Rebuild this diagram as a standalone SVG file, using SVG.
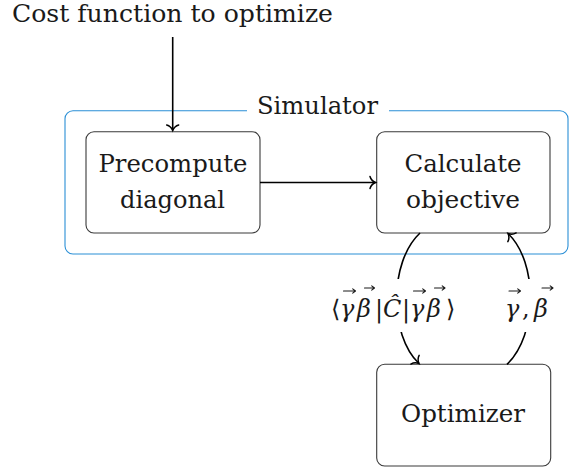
<svg xmlns="http://www.w3.org/2000/svg" width="569" height="467" viewBox="0 0 569 467">
<style>
text{font-family:"DejaVu Serif",serif;font-size:24.5px;fill:#1a1a1a;text-anchor:middle}
.box{fill:#fff;stroke:#3a3a3a;stroke-width:1.1}
.sim{fill:none;stroke:#2a8fd6;stroke-width:1.1}
.edge{fill:none;stroke:#000;stroke-width:1.6}
.math{font-size:24px;text-anchor:start}
.it{font-style:italic}
.vec{fill:none;stroke:#1a1a1a;stroke-width:1.1;stroke-linecap:round;stroke-linejoin:round}
</style>
<defs>
<marker id="arr" markerUnits="userSpaceOnUse" orient="auto" refX="0" refY="0" markerWidth="12" markerHeight="14" viewBox="-7 -7 12 14" overflow="visible">
<path d="M-5.5,-6 C-4.5,-2.5 -1.5,-0.6 0,0 C-1.5,0.6 -4.5,2.5 -5.5,6" fill="none" stroke="#000" stroke-width="1.5" stroke-linecap="round"/>
</marker>
</defs>

<g id="simulator">
<path class="sim" d="M389,110.7 H560 A8,8 0 0 1 568,118.7 V246 A8,8 0 0 1 560,254 H73 A8,8 0 0 1 65,246 V118.7 A8,8 0 0 1 73,110.7 H247"/>
<text x="317.5" y="114" textLength="121" lengthAdjust="spacingAndGlyphs">Simulator</text>
</g>

<g id="title">
<text x="172.5" y="22" textLength="321" lengthAdjust="spacingAndGlyphs">Cost function to optimize</text>
</g>

<g id="precompute">
<rect class="box" x="86" y="131.7" width="174" height="101.3" rx="8"/>
<text x="173" y="171.5" textLength="149" lengthAdjust="spacingAndGlyphs">Precompute</text>
<text x="172.5" y="208" textLength="105" lengthAdjust="spacingAndGlyphs">diagonal</text>
</g>

<g id="calculate">
<rect class="box" x="376.7" y="131.7" width="173.3" height="101.3" rx="8"/>
<text x="463" y="171.5" textLength="117" lengthAdjust="spacingAndGlyphs">Calculate</text>
<text x="463" y="208" textLength="114" lengthAdjust="spacingAndGlyphs">objective</text>
</g>

<g id="optimizer">
<rect class="box" x="376.7" y="364.3" width="174" height="101.7" rx="8"/>
<text x="463" y="421.5" textLength="124" lengthAdjust="spacingAndGlyphs">Optimizer</text>
</g>

<g id="connectors">
<path class="edge" d="M172.7,37 V130.5" marker-end="url(#arr)"/>
<path class="edge" d="M260,182.5 H375.5" marker-end="url(#arr)"/>
<path class="edge" d="M420,233 C389,262 389,335 419,363.5" marker-end="url(#arr)"/>
<path class="edge" d="M507,364.3 C538,335 538,262 508,233.5" marker-end="url(#arr)"/>
</g>

<g id="label-expectation">
<rect x="329" y="279" width="131" height="53" fill="#fff"/>
<text class="math" y="317"><tspan x="331">⟨</tspan><tspan class="it" x="340">γ</tspan><tspan class="it" x="357">β</tspan><tspan x="375">|</tspan><tspan class="it" x="383">Ĉ</tspan><tspan x="402">|</tspan><tspan class="it" x="410">γ</tspan><tspan class="it" x="427">β</tspan><tspan x="446">⟩</tspan></text>
<path class="vec" d="M343.5,291 H355.5 M352.7,288.9 L355.5,291 L352.7,293.1"/>
<path class="vec" d="M364.5,288 H374.5 M371.7,285.9 L374.5,288 L371.7,290.1"/>
<path class="vec" d="M413.5,291 H425.5 M422.7,288.9 L425.5,291 L422.7,293.1"/>
<path class="vec" d="M434.5,288 H445 M442.2,285.9 L445,288 L442.2,290.1"/>
</g>

<g id="label-params">
<rect x="502" y="279" width="57" height="53" fill="#fff"/>
<text class="math" y="317"><tspan class="it" x="505">γ</tspan><tspan x="522">,</tspan><tspan class="it" x="534">β</tspan></text>
<path class="vec" d="M509,291 H520.5 M517.7,288.9 L520.5,291 L517.7,293.1"/>
<path class="vec" d="M542,288 H553 M550.2,285.9 L553,288 L550.2,290.1"/>
</g>
</svg>
